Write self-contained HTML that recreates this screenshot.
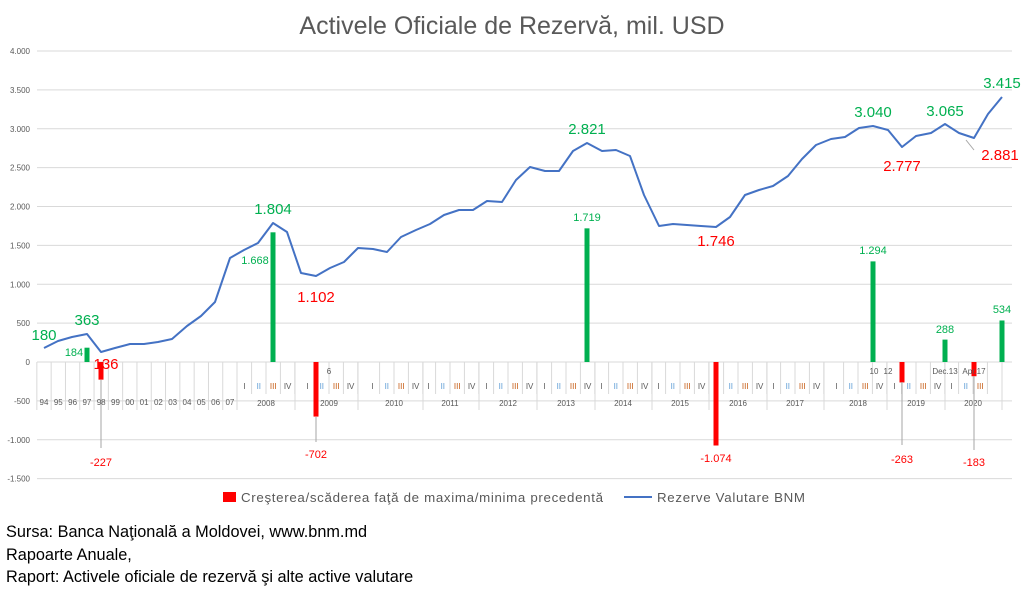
<!DOCTYPE html>
<html><head><meta charset="utf-8"><style>
body{margin:0;background:#fff;width:1023px;height:591px;overflow:hidden;font-family:"Liberation Sans",sans-serif}
svg text{font-family:"Liberation Sans",sans-serif}
.src{position:absolute;left:6px;font-size:16.3px;color:#000}
</style></head><body>
<svg id="s" width="1023" height="520" style="position:absolute;left:0;top:0">
<text x="512" y="34" font-size="25" fill="#595959" text-anchor="middle">Activele Oficiale de Rezervă, mil. USD</text>
<g id="grid" stroke="#d9d9d9" stroke-width="1"></g>
<g id="yl" font-size="8" fill="#595959" text-anchor="end"></g>
<g id="ticks" stroke="#d9d9d9" stroke-width="1"></g>
<g id="cl" font-size="8" fill="#595959" text-anchor="middle"></g>
<g id="bars"></g>
<polyline fill="none" stroke="#4472c4" stroke-width="2" stroke-linejoin="round" points="44,348 58,341 72,337 87,334 101,352 115,348 130,344 144,344 158,342 172,339 187,326 201,316 215,302 230,258 244,250 258,243 273,223 287,232 301,273 316,276 330,268 344,262 358,248 373,249 387,252 401,237 416,230 430,224 444,215 459,210 473,210 487,201 502,202 516,180 530,167 545,171 559,171 573,151 587,143 602,151 616,150 630,156 644,195 659,226 673,224 687,225 701,226 716,227 730,217 745,195 759,190 773,186 788,176 802,159 816,145 831,139 845,137 859,128 873,126 888,130 902,147 916,136 931,133 945,124 959,133 974,138 988,114 1002,97"/>
<g stroke="#a6a6a6" stroke-width="1">
<line x1="101" y1="380" x2="101" y2="448"/><line x1="316" y1="417" x2="316" y2="442"/><line x1="902" y1="382" x2="902" y2="445"/><line x1="974" y1="376" x2="974" y2="450"/><line x1="966" y1="140" x2="974" y2="150"/>
</g>
<g font-size="15" fill="#00b050" text-anchor="middle">
<text x="44" y="340">180</text><text x="87" y="325">363</text><text x="273" y="214">1.804</text><text x="587" y="134">2.821</text><text x="873" y="117">3.040</text><text x="945" y="116">3.065</text><text x="1002" y="88">3.415</text>
</g>
<g font-size="15" fill="#ff0000" text-anchor="middle">
<text x="106" y="369">136</text><text x="316" y="302">1.102</text><text x="716" y="246">1.746</text><text x="902" y="171">2.777</text><text x="1000" y="160">2.881</text>
</g>
<g font-size="11" fill="#00b050" text-anchor="middle">
<text x="74" y="356">184</text><text x="255" y="264">1.668</text><text x="587" y="221">1.719</text><text x="873" y="254">1.294</text><text x="945" y="333">288</text><text x="1002" y="313">534</text>
</g>
<g font-size="11" fill="#ff0000" text-anchor="middle">
<text x="101" y="466">-227</text><text x="316" y="458">-702</text><text x="716" y="462">-1.074</text><text x="902" y="463">-263</text><text x="974" y="466">-183</text>
</g>
<g font-size="8" fill="#595959" text-anchor="middle">
<text x="329" y="374">6</text><text x="874" y="374">10</text><text x="888" y="374">12</text><text x="945" y="374">Dec.13</text><text x="974" y="374">Apr.17</text>
</g>
<rect x="223" y="492" width="13" height="10" fill="#ff0000"/>
<text x="241" y="502" font-size="13.3" fill="#595959" textLength="362">Creşterea/scăderea faţă de maxima/minima precedentă</text>
<line x1="624" y1="497" x2="652" y2="497" stroke="#4472c4" stroke-width="2"/>
<text x="657" y="502" font-size="13.3" fill="#595959" textLength="148">Rezerve Valutare BNM</text>
</svg>
<div class="src" style="top:523px">Sursa: Banca Naţională a Moldovei, www.bnm.md</div>
<div class="src" style="top:546px">Rapoarte Anuale,</div>
<div class="src" style="top:568px">Raport: Activele oficiale de rezervă şi alte active valutare</div>
<script>
const NS="http://www.w3.org/2000/svg";
function el(p,t,a,tx){const e=document.createElementNS(NS,t);for(const k in a)e.setAttribute(k,a[k]);if(tx!==undefined)e.textContent=tx;document.getElementById(p).appendChild(e);}
const Y=v=>362-v*0.07775;
for(let v=-1500;v<=4000;v+=500){if(v!==0)el("grid","line",{x1:37,x2:1012,y1:Y(v),y2:Y(v)});
el("yl","text",{x:30,y:Y(v)+3},v===0?"0":(v<0?"-":"")+(Math.abs(v)>=1000?Math.floor(Math.abs(v)/1000)+"."+String(Math.abs(v)%1000).padStart(3,"0"):Math.abs(v)));}
el("grid","line",{x1:37,x2:1012,y1:362,y2:362,stroke:"#d9d9d9"});
const yrs=["94","95","96","97","98","99","00","01","02","03","04","05","06","07"];
yrs.forEach((y,i)=>{const x=44+i*14.3;el("cl","text",{x:x,y:405},y);el("ticks","line",{x1:x-7.15,x2:x-7.15,y1:362,y2:410});});
el("ticks","line",{x1:237,x2:237,y1:362,y2:410});
const yc=[266,329,394,450,508,566,623,680,738,795,858,916,973];
const Q=["I","II","III","IV"];
yc.forEach((c,i)=>{el("cl","text",{x:c,y:406},String(2008+i));
 el("ticks","line",{x1:c+29,x2:c+29,y1:362,y2:410});
 for(let q=0;q<4;q++){if(i==12&&q==3)continue;const x=c+(q-1.5)*14.4;el("cl","text",{x:x,y:389,fill:q==1?"#5b9bd5":(q==2?"#c55a11":"#595959")},Q[q]);el("ticks","line",{x1:x+7.2,x2:x+7.2,y1:362,y2:394});}
});
const bars=[[87,184,"#00b050"],[273,1668,"#00b050"],[587,1719,"#00b050"],[873,1294,"#00b050"],[945,288,"#00b050"],[1002,534,"#00b050"],[101,-227,"#ff0000"],[316,-702,"#ff0000"],[716,-1074,"#ff0000"],[902,-263,"#ff0000"],[974,-183,"#ff0000"]];
bars.forEach(b=>{const y=Y(b[1]);el("bars","rect",{x:b[0]-2.5,y:Math.min(y,362),width:5,height:Math.abs(y-362),fill:b[2]});});
</script>
</body></html>
